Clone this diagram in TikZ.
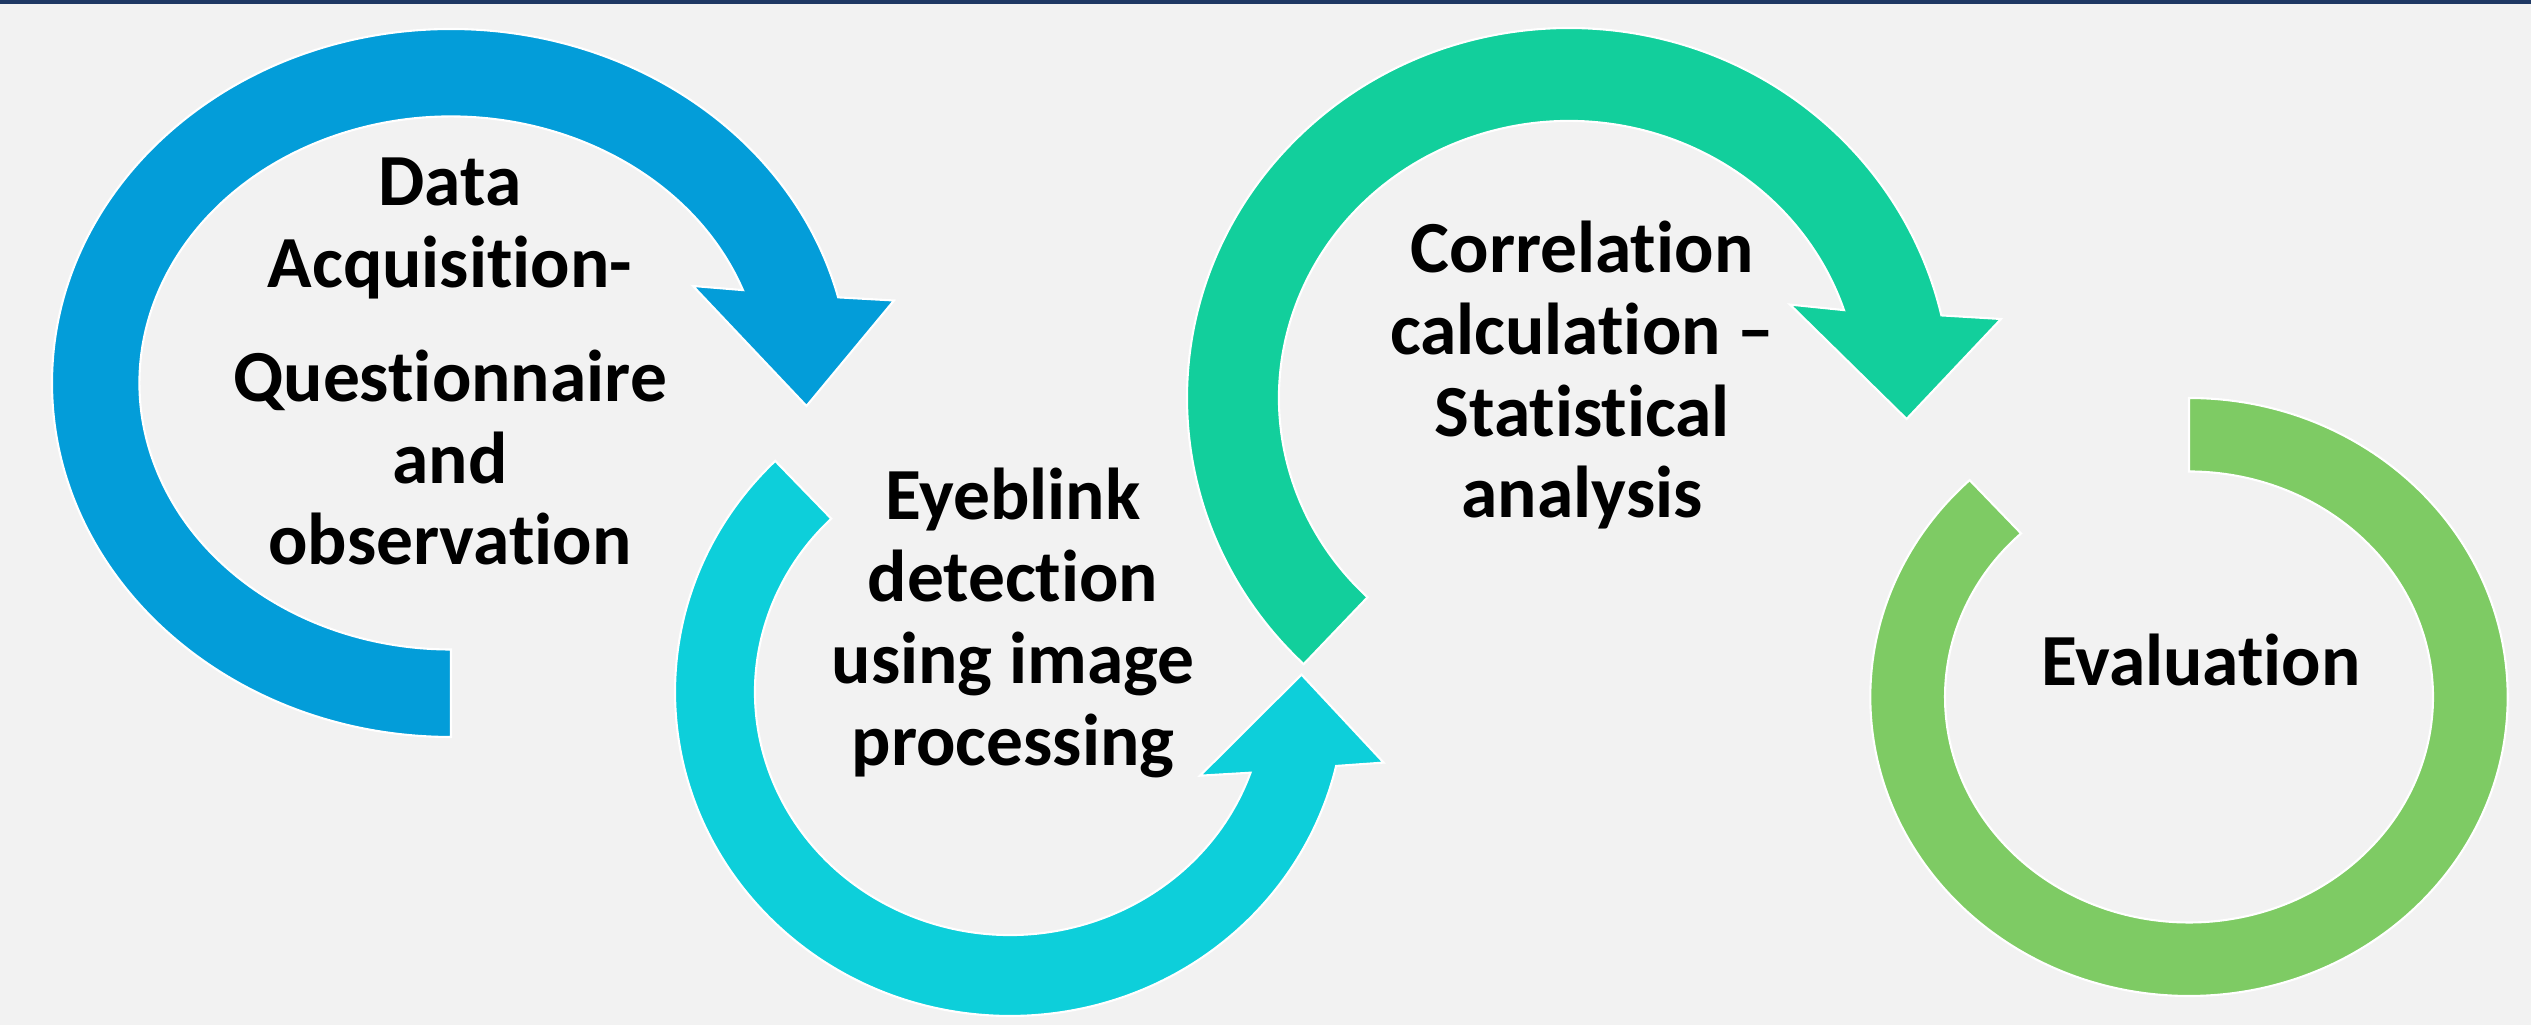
\documentclass[tikz,border=0pt]{standalone}
\usepackage{fontspec}
\setmainfont{Carlito}[Ligatures=NoCommon]
\usepackage{xcolor}
\usepackage{tikz}
\usetikzlibrary{calc}
\definecolor{pgray}{HTML}{F2F2F2}
\definecolor{pnavy}{HTML}{1F3864}
\definecolor{pblue}{HTML}{039DD9}
\definecolor{pcyan}{HTML}{0DCFDA}
\definecolor{pteal}{HTML}{12CF9C}
\definecolor{pgreen}{HTML}{7ECB64}

\tikzset{
  ring/.style={draw=white, line width=0.6pt, line join=miter},
  steplabel/.style={font=\fontsize{20.9}{23.3}\selectfont\bfseries, align=center, anchor=base, inner sep=0pt}
}

\begin{document}
\begin{tikzpicture}[x=1cm, y=1cm]
\useasboundingbox (0,0) rectangle (25.31,10.25);
\fill[pgray] (0,0) rectangle (25.31,10.25);
\fill[pnavy] (0,10.21) rectangle (25.31,10.25);

% ring centres
\coordinate (acqc) at (4.51,6.42);
\coordinate (blinkc) at (10.10,3.33);
\coordinate (corrc) at (15.69,6.27);
\coordinate (evalc) at (21.89,3.28);

% data acquisition
\fill[pblue, ring] ($(acqc)+(270:3.99 and 3.54)$)
  arc[start angle=270, end angle=14, x radius=3.99, y radius=3.54]
  -- (8.94,7.245) -- (8.065,6.19) -- (6.93,7.39)
  -- ($(acqc)+(20.4:3.115 and 2.665)$)
  arc[start angle=20.4, end angle=270, x radius=3.115, y radius=2.665] -- cycle;
\node[steplabel] (acq) at (4.50,4.60) {Data\\Acquisition-\\[9pt]Questionnaire\\and\\observation};

% eyeblink detection
\fill[pcyan, ring] ($(blinkc)+(134.5:3.35 and 3.24)$)
  arc[start angle=134.5, end angle=346.8, x radius=3.35, y radius=3.24]
  -- (13.836,2.624) -- (13.015,3.504) -- (12.00,2.493)
  -- ($(blinkc)+(340.6:2.55 and 2.43)$)
  arc[start angle=340.6, end angle=134.5, x radius=2.55, y radius=2.43] -- cycle;
\node[steplabel] (blink) at (10.13,2.597) {Eyeblink\\detection\\using image\\processing};

% correlation
\fill[pteal, ring] ($(corrc)+(226:3.82 and 3.70)$)
  arc[start angle=226, end angle=12.9, x radius=3.82, y radius=3.70]
  -- (20.01,7.06) -- (19.066,6.06) -- (17.90,7.204)
  -- ($(corrc)+(18.5:2.90 and 2.77)$)
  arc[start angle=18.5, end angle=226, x radius=2.90, y radius=2.77] -- cycle;
\node[steplabel] (corr) at (15.82,5.07) {Correlation\\calculation --\\Statistical\\analysis};

% evaluation
\fill[pgreen, ring] ($(evalc)+(90:3.187 and 2.99)$)
  arc[start angle=90, end angle=-226.5, x radius=3.187, y radius=2.99]
  -- ($(evalc)+(-226.5:2.44 and 2.255)$)
  arc[start angle=-226.5, end angle=90, x radius=2.44, y radius=2.255] -- cycle;
\node[steplabel] (eval) at (22.01,3.393) {Evaluation};
\end{tikzpicture}
\end{document}
